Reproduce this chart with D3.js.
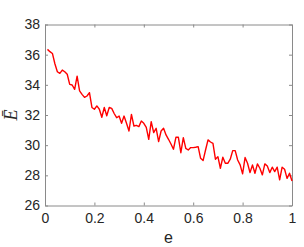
<!DOCTYPE html>
<html>
<head>
<meta charset="utf-8">
<script src="https://cdn.jsdelivr.net/npm/d3@7"></script>
<style>
    body { margin: 0; background: #fff; }
    svg { display: block; }
    .tick text { font-family: "Liberation Sans", Arial, sans-serif; font-size: 14px; fill: #262626; }
</style>
</head>
<body>
<script>
//data: e from 0.01 to 1
var eValues = [0.01,0.02,0.03,0.04,0.05,0.06,0.07,0.08,0.09,0.10,
    0.11,0.12,0.13,0.14,0.15,0.16,0.17,0.18,0.19,0.20,
    0.21,0.22,0.23,0.24,0.25,0.26,0.27,0.28,0.29,0.30,
    0.31,0.32,0.33,0.34,0.35,0.36,0.37,0.38,0.39,0.40,
    0.41,0.42,0.43,0.44,0.45,0.46,0.47,0.48,0.49,0.50,
    0.51,0.52,0.53,0.54,0.55,0.56,0.57,0.58,0.59,0.60,
    0.61,0.62,0.63,0.64,0.65,0.66,0.67,0.68,0.69,0.70,
    0.71,0.72,0.73,0.74,0.75,0.76,0.77,0.78,0.79,0.80,
    0.81,0.82,0.83,0.84,0.85,0.86,0.87,0.88,0.89,0.90,
    0.91,0.92,0.93,0.94,0.95,0.96,0.97,0.98,0.99,1.00];
var eBar = [36.35,36.2,36.08,35.4,34.87,34.76,34.98,34.87,34.7,34.03,
    33.99,33.7,34.58,33.6,33.37,33.17,33.26,33.48,32.5,32.38,
    32.6,32.38,31.85,32.5,31.95,32.5,32.44,32.1,31.82,31.93,
    31.45,31.93,31.45,30.94,32.04,31.27,31.31,31.23,31.6,31.45,
    31.18,30.39,31.56,30.83,31.12,30.24,30.94,31.12,30.68,30.39,
    30.08,29.73,30.52,30.52,29.5,30.5,29.79,29.68,29.84,29.84,
    29.86,29.9,29.13,28.98,29.68,30.35,30.21,30.12,29.07,29.24,
    28.47,29.2,28.8,28.8,29.07,29.64,29.64,29.02,28.69,28.1,
    29.18,28.8,28.18,28.69,28.14,28.76,28.47,28.03,28.76,28.62,
    28.18,28.54,28.25,28.54,27.7,28.54,28.4,27.8,28.14,27.63];
var xTicks = [0, 0.2, 0.4, 0.6, 0.8, 1];
var yTicks = [26, 28, 30, 32, 34, 36, 38];

var width = 304, height = 247;
var plotLeft = 45, plotRight = 292, plotTop = 24.5, plotBottom = 205.5;

var svg = d3.select("body").append("svg")
    .attr("width", width)
    .attr("height", height);

var x = d3.scaleLinear().domain([0, 1]).range([plotLeft, plotRight]);
var y = d3.scaleLinear().domain([26, 38]).range([plotBottom, plotTop]);

var axisColor = "#8a8a8a";
var fmt = function(d){ return String(d); };

//bottom and left axes, ticks pointing inward
var xAxis = svg.append("g")
    .attr("transform", "translate(0," + plotBottom + ")")
    .call(d3.axisBottom(x).tickValues(xTicks).tickFormat(fmt).tickSizeInner(-3).tickSizeOuter(0).tickPadding(8));
var yAxis = svg.append("g")
    .attr("transform", "translate(" + plotLeft + ",0)")
    .call(d3.axisLeft(y).tickValues(yTicks).tickFormat(fmt).tickSizeInner(-3).tickSizeOuter(0).tickPadding(5));

//top and right box lines with ticks
var xTop = svg.append("g")
    .attr("transform", "translate(0," + plotTop + ")")
    .call(d3.axisTop(x).tickValues(xTicks).tickFormat("").tickSizeInner(-3).tickSizeOuter(0));
var yRight = svg.append("g")
    .attr("transform", "translate(" + plotRight + ",0)")
    .call(d3.axisRight(y).tickValues(yTicks).tickFormat("").tickSizeInner(-3).tickSizeOuter(0));

[xAxis, yAxis, xTop, yRight].forEach(function(g){
    g.selectAll("path, line").attr("stroke", axisColor);
});

//the red curve
var line = d3.line()
    .x(function(d, i){ return x(eValues[i]); })
    .y(function(d){ return y(d); });

svg.append("path")
    .datum(eBar)
    .attr("fill", "none")
    .attr("stroke", "#ff0000")
    .attr("stroke-width", 1.4)
    .attr("stroke-linejoin", "round")
    .attr("d", line);

//axis labels
svg.append("text")
    .attr("x", (plotLeft + plotRight) / 2)
    .attr("y", 243)
    .attr("text-anchor", "middle")
    .attr("font-family", "Liberation Sans, Arial, sans-serif")
    .attr("font-size", 16)
    .attr("fill", "#262626")
    .text("e");

svg.append("text")
    .attr("transform", "translate(17," + ((plotTop + plotBottom) / 2) + ") rotate(-90)")
    .attr("text-anchor", "middle")
    .attr("font-family", "Liberation Serif, Times New Roman, serif")
    .attr("font-style", "italic")
    .attr("font-size", 18)
    .attr("fill", "#262626")
    .text("\u0112");
</script>
</body>
</html>
